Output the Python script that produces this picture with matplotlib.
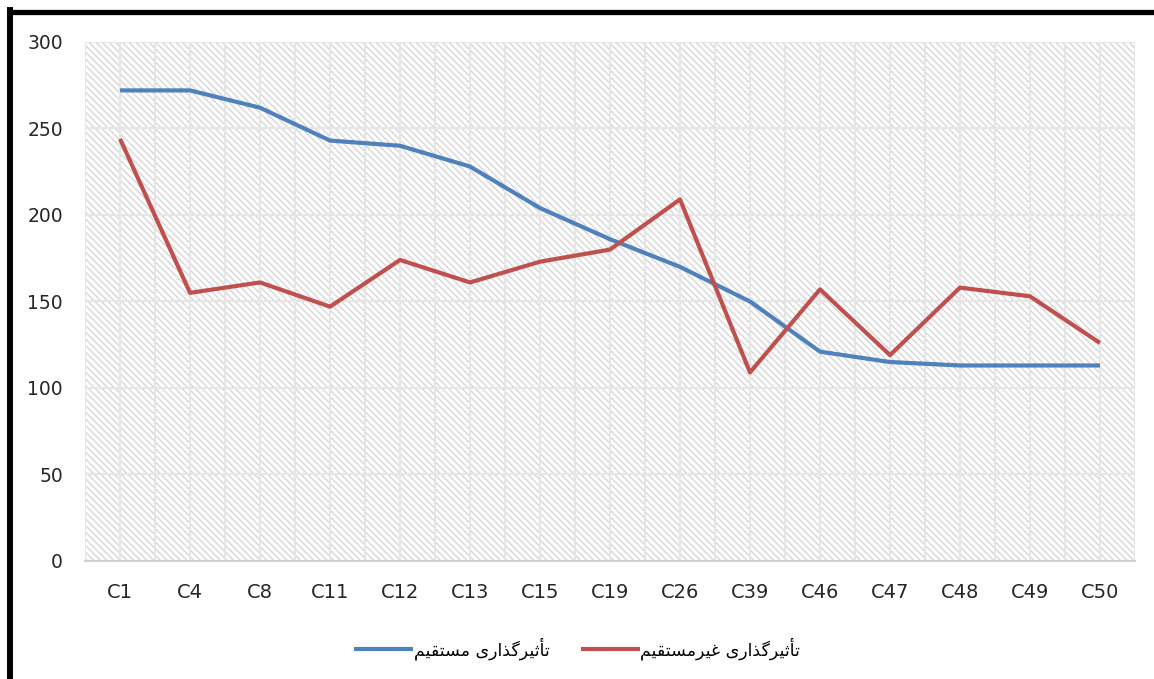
import matplotlib
matplotlib.use('Agg')
import matplotlib.pyplot as plt
from matplotlib.lines import Line2D

categories = ['C1', 'C4', 'C8', 'C11', 'C12', 'C13', 'C15', 'C19',
              'C26', 'C39', 'C46', 'C47', 'C48', 'C49', 'C50']
direct = [272, 272, 262, 243, 240, 228, 204, 186, 170, 150, 121, 115, 113, 113, 113]
indirect = [244, 155, 161, 147, 174, 161, 173, 180, 209, 109, 157, 119, 158, 153, 126]
label_direct = 'تأثیرگذاری مستقیم'
label_indirect = 'تأثیرگذاری غیرمستقیم'
y_ticks = [0, 50, 100, 150, 200, 250, 300]

# presentation forms: isolated, final, initial, medial
FORMS = {
    'ت': ('\uFE95', '\uFE96', '\uFE97', '\uFE98'),
    'ث': ('\uFE99', '\uFE9A', '\uFE9B', '\uFE9C'),
    'ی': ('\uFBFC', '\uFBFD', '\uFBFE', '\uFBFF'),
    'گ': ('\uFB92', '\uFB93', '\uFB94', '\uFB95'),
    'م': ('\uFEE1', '\uFEE2', '\uFEE3', '\uFEE4'),
    'س': ('\uFEB1', '\uFEB2', '\uFEB3', '\uFEB4'),
    'ق': ('\uFED5', '\uFED6', '\uFED7', '\uFED8'),
    'غ': ('\uFECD', '\uFECE', '\uFECF', '\uFED0'),
    'أ': ('\uFE83', '\uFE84', None, None),
    'ر': ('\uFEAD', '\uFEAE', None, None),
    'ذ': ('\uFEAB', '\uFEAC', None, None),
    'ا': ('\uFE8D', '\uFE8E', None, None),
}


def shape(text):
    """rough arabic/persian shaping, returned in visual (LTR) order"""
    out = []
    for i, ch in enumerate(text):
        if ch not in FORMS:
            out.append(ch)
            continue
        f = FORMS[ch]
        prev = text[i - 1] if i > 0 else ''
        nxt = text[i + 1] if i + 1 < len(text) else ''
        join_prev = prev in FORMS and FORMS[prev][2] is not None
        join_next = f[2] is not None and nxt in FORMS
        if join_prev and join_next:
            out.append(f[3])
        elif join_prev:
            out.append(f[1])
        elif join_next:
            out.append(f[2])
        else:
            out.append(f[0])
    return ''.join(out)[::-1]


plt.rcParams['font.family'] = ['DejaVu Sans']
plt.rcParams['hatch.color'] = '#d6d6d6'
plt.rcParams['hatch.linewidth'] = 1.0

fig = plt.figure(figsize=(11.54, 6.79), dpi=100)
ax = fig.add_axes([0.0737, 0.1738, 0.9098, 0.7644])

ax.patch.set_facecolor('white')
ax.patch.set_hatch('\\\\\\\\\\')
ax.patch.set_edgecolor('#d6d6d6')

x = list(range(len(categories)))
ax.plot(x, direct, color='#4F81BD', lw=3.0, solid_capstyle='butt',
        label=shape(label_direct), zorder=3)
ax.plot(x, indirect, color='#C0504D', lw=3.0, solid_capstyle='butt',
        label=shape(label_indirect), zorder=3)

ax.set_xlim(-0.5, len(categories) - 0.5)
ax.set_ylim(0, 300)
ax.set_yticks(y_ticks)
ax.set_xticks(x)
ax.set_xticklabels(categories)
ax.set_xticks([i + 0.5 for i in range(-1, len(categories))], minor=True)

ax.grid(True, which='major', axis='both', color='#e6e6e6', lw=1.6, zorder=1)
ax.grid(True, which='minor', axis='x', color='#e6e6e6', lw=1.6, zorder=1)
ax.set_axisbelow(True)

for s in ['top', 'right', 'left']:
    ax.spines[s].set_visible(False)
ax.spines['bottom'].set_color('#d0d0d0')
ax.spines['bottom'].set_linewidth(1.4)
ax.tick_params(which='both', length=0)
ax.tick_params(axis='x', labelsize=14, pad=16, colors='#262626')
ax.tick_params(axis='y', labelsize=13.5, pad=16, colors='#262626')

leg = fig.legend(loc='lower center', bbox_to_anchor=(0.5, 0.005), ncol=2,
                 frameon=False, fontsize=12.5, handlelength=3.4, columnspacing=1.8,
                 handletextpad=0.05)

# black frame along top and left
fig.add_artist(Line2D([0.0087, 1.0], [0.9816, 0.9816], color='black', lw=3.8,
                      transform=fig.transFigure))
fig.add_artist(Line2D([0.0087, 0.0087], [0.0, 0.985], color='black', lw=4.3,
                      transform=fig.transFigure))

fig.savefig('out.png', dpi=100)
